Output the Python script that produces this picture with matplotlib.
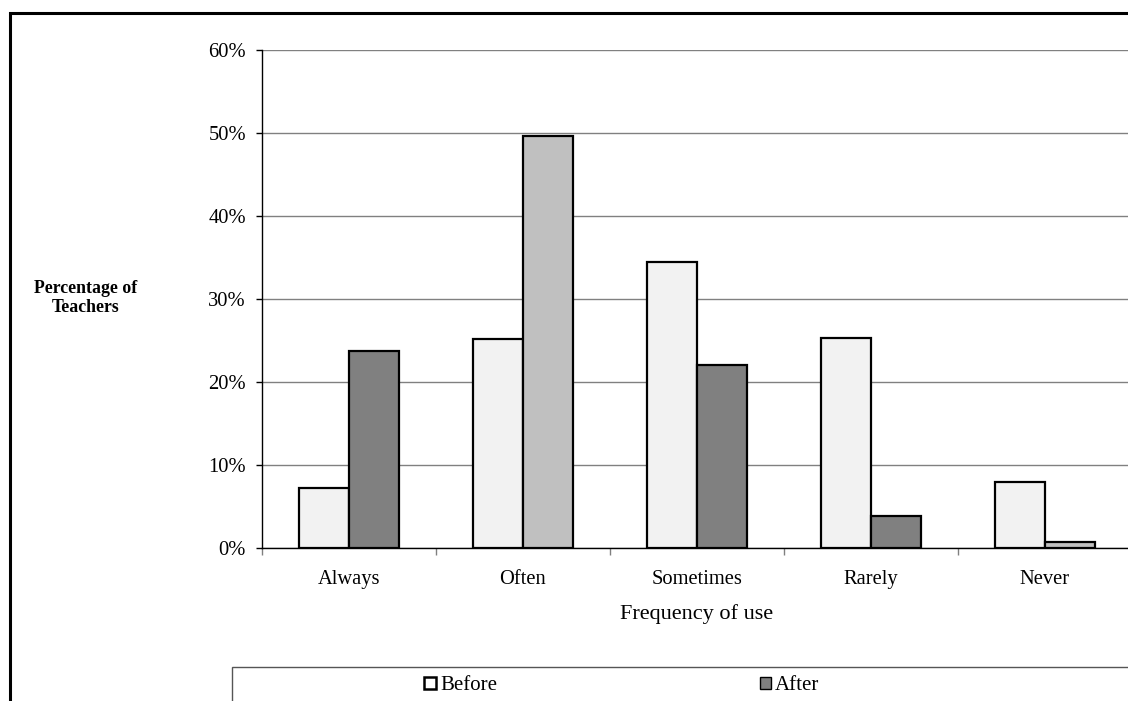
import matplotlib.pyplot as plt
import numpy as np
from matplotlib.patches import Rectangle, Patch

categories = ["Always", "Often", "Sometimes", "Rarely", "Never"]
before = [7.2, 25.2, 34.5, 25.3, 7.9]
after = [23.7, 49.6, 22.1, 3.9, 0.7]
after_colors = ["#808080", "#c0c0c0", "#808080", "#808080", "#c0c0c0"]

plt.rcParams['font.family'] = ['Liberation Serif', 'DejaVu Serif']

W, H = 1128, 701
fig = plt.figure(figsize=(W / 100, H / 100), dpi=100)

# outer chart frame, running off the right and bottom edges
fig.patches.append(Rectangle((10 / W, -0.05), 1.1, 1 - 13 / H + 0.05,
                             transform=fig.transFigure, fill=False,
                             edgecolor="black", linewidth=2.2, zorder=0))

# plot area: 0% at y=548, 60% at y=50, x from 262 to 1132
ax = fig.add_axes([262 / W, 1 - 548 / H, 870 / W, 498 / H])

x = np.arange(len(categories))
width = 0.287
ax.bar(x - width / 2, before, width, color="#f2f2f2", edgecolor="black",
       linewidth=1.6, zorder=3, label="Before")
ax.bar(x + width / 2, after, width, color=after_colors, edgecolor="black",
       linewidth=1.6, zorder=3, label="After")

ax.set_xlim(-0.5, len(categories) - 0.5)
ax.set_ylim(0, 60)
ax.set_yticks(np.arange(0, 61, 10))
ax.set_yticklabels([f"{v}%" for v in range(0, 61, 10)], fontsize=14.8)
ax.yaxis.grid(True, color="#808080", linewidth=1.0, zorder=0)
ax.tick_params(axis="y", length=4.5, width=1, pad=7)

# category labels centred, tick marks on the boundaries
ax.set_xticks(x)
ax.set_xticklabels(categories, fontsize=14.8)
ax.tick_params(axis="x", which="major", length=0, pad=16)
ax.set_xticks(np.arange(-0.5, len(categories) + 0.5, 1), minor=True)
ax.tick_params(axis="x", which="minor", length=5, width=1, color="#808080")

ax.spines["top"].set_visible(False)
ax.spines["right"].set_visible(False)
ax.spines["left"].set_linewidth(1.0)
ax.spines["bottom"].set_linewidth(1.0)

ax.set_xlabel("Frequency of use", fontsize=16, labelpad=11)
fig.text(86 / W, 1 - 298 / H, "Percentage of\nTeachers", ha="center",
         va="center", fontsize=12.8, fontweight="bold", linespacing=1.1)

# legend box at the bottom
fig.patches.append(Rectangle((232 / W, -0.05), 1.0, 1 - 667 / H + 0.05,
                             transform=fig.transFigure, fill=False,
                             edgecolor="#555555", linewidth=1.0, zorder=0))
handles = [Patch(facecolor="white", edgecolor="black", linewidth=1.8),
           Patch(facecolor="#808080", edgecolor="black", linewidth=1.0)]
fig.legend(handles, ["Before", "After"], loc="center",
           bbox_to_anchor=(622 / W, 1 - 686 / H), ncol=2, frameon=False,
           fontsize=15, handlelength=0.55, handleheight=0.55,
           handletextpad=0.2, columnspacing=12.6)

fig.savefig("out.png", dpi=100)
